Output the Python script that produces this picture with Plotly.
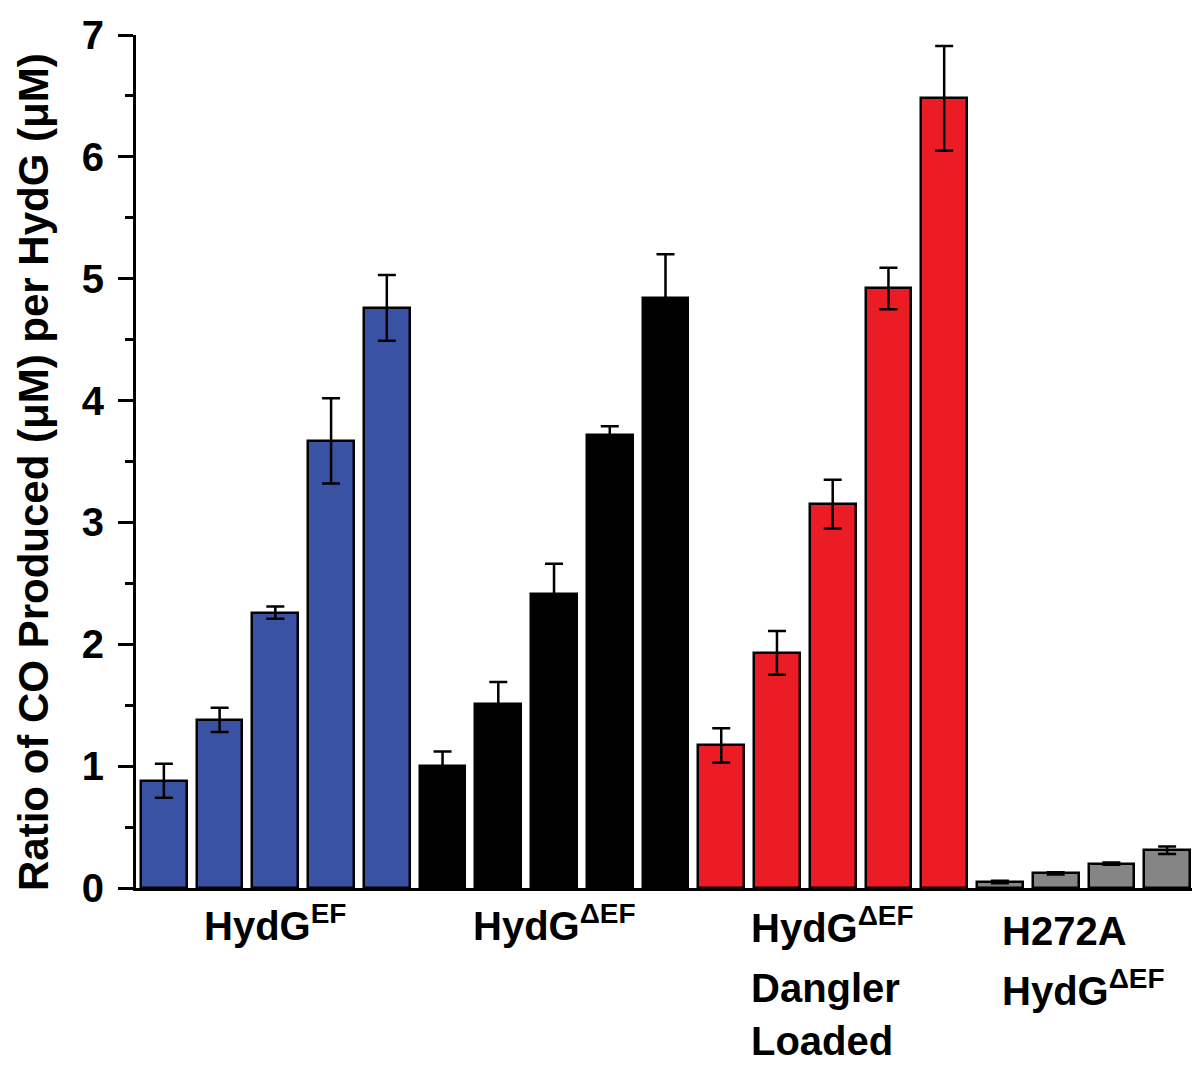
import plotly.graph_objects as go

# Data
blue_vals = [0.88, 1.38, 2.26, 3.67, 4.76]
blue_err = [0.14, 0.10, 0.05, 0.35, 0.27]
black_vals = [1.00, 1.51, 2.41, 3.72, 4.84]
black_err = [0.12, 0.18, 0.25, 0.07, 0.36]
red_vals = [1.17, 1.93, 3.15, 4.92, 6.48]
red_err = [0.14, 0.18, 0.20, 0.17, 0.43]
gray_vals = [0.05, 0.12, 0.20, 0.31]
gray_err = [0.01, 0.01, 0.01, 0.03]

group_colors = ["#3A52A4", "#000000", "#EC1C24", "#858585"]
series_vals = [blue_vals, black_vals, red_vals, gray_vals]
series_err = [blue_err, black_err, red_err, gray_err]

y_ticks = [0, 1, 2, 3, 4, 5, 6, 7]

FONT = "Liberation Sans, Arial, sans-serif"

fig = go.Figure()
start = 0
for vals, errs, col in zip(series_vals, series_err, group_colors):
    xs = list(range(start, start + len(vals)))
    start += len(vals)
    fig.add_trace(go.Bar(
        x=xs, y=vals, width=0.82,
        marker=dict(color=col, line=dict(color="#000000", width=2.5)),
        error_y=dict(type="data", array=errs, visible=True, color="#000000",
                     thickness=2.5, width=9),
        showlegend=False,
    ))

fig.update_layout(
    width=1192, height=1060,
    margin=dict(l=128, r=5, t=27, b=180),
    plot_bgcolor="white", paper_bgcolor="white",
    bargap=0,
    font=dict(family=FONT, size=20, color="#000000"),
)

fig.update_xaxes(
    range=[-0.5, 18.5], showticklabels=False, ticks="",
    showline=True, linecolor="#000000", linewidth=3,
    showgrid=False, zeroline=False,
)
fig.update_yaxes(
    range=[0, 7], tickvals=y_ticks, ticktext=["<b>%d</b>" % t for t in y_ticks],
    ticks="outside", ticklen=15, tickwidth=3, tickcolor="#000000",
    showline=True, linecolor="#000000", linewidth=3,
    showgrid=False, zeroline=False,
    tickfont=dict(family=FONT, size=40, color="#000000"),
    ticklabelstandoff=6,
    minor=dict(dtick=0.5, ticks="outside", ticklen=8, tickwidth=3, tickcolor="#000000"),
)

# Y axis title as annotation
fig.add_annotation(
    text="<b>Ratio of CO Produced (\u03bcM) per HydG (\u03bcM)</b>",
    xref="paper", yref="paper", x=-0.097, y=0.488,
    xanchor="center", yanchor="middle", textangle=-90, showarrow=False,
    font=dict(family=FONT, size=42, color="#000000"),
)

LBL = dict(family=FONT, size=40, color="#000000")

def lbl(text, x, yshift, anchor):
    fig.add_annotation(
        text="<b>" + text + "</b>", xref="x", yref="paper", x=x, y=0,
        xanchor=anchor, yanchor="middle", yshift=yshift, showarrow=False,
        font=LBL,
    )

lbl("HydG<sup>EF</sup>", 2, -35, "center")
lbl("HydG<sup>\u0394EF</sup>", 7, -35, "center")
lbl("HydG<sup>\u0394EF</sup>", 10.5, -37, "left")
lbl("Dangler", 10.5, -100, "left")
lbl("Loaded", 10.5, -153, "left")
lbl("H272A", 15.0, -43, "left")
lbl("HydG<sup>\u0394EF</sup>", 15.0, -100, "left")

fig.write_html("out.html")
